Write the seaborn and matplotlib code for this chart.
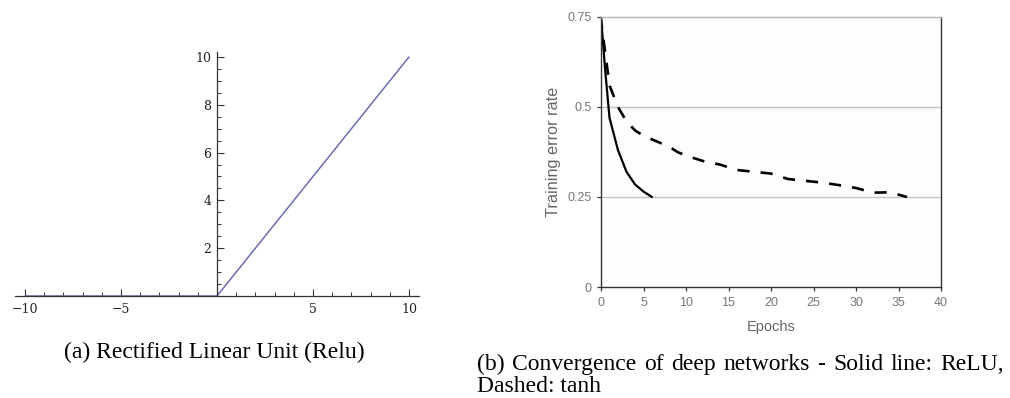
import numpy as np
import pandas as pd
import matplotlib
matplotlib.use("Agg")
import matplotlib.pyplot as plt
import seaborn as sns
from matplotlib.ticker import FixedLocator

# ---- data ----
relu_x = [-10, 0, 10]
relu_y = [0, 0, 10]

relu_epochs = [0, 0.5, 1, 2, 3, 4, 5, 6]
relu_error = [0.75, 0.60, 0.47, 0.38, 0.32, 0.285, 0.265, 0.25]

tanh_epochs = [0, 1, 2, 3, 4, 5, 6, 7, 8, 9, 10, 12, 14, 16, 18, 20, 22, 24, 26, 28, 30, 32, 34, 36]
tanh_error = [0.74, 0.56, 0.50, 0.46, 0.435, 0.42, 0.41, 0.40, 0.39, 0.375, 0.365, 0.35,
              0.34, 0.325, 0.32, 0.315, 0.30, 0.295, 0.29, 0.283, 0.275, 0.262, 0.263, 0.25]

left_xticks = [-10, -5, 5, 10]
left_xlabels = ["\u221210", "\u22125", "5", "10"]
left_yticks = [2, 4, 6, 8, 10]
right_xticks = [0, 5, 10, 15, 20, 25, 30, 35, 40]
right_yticks = [0, 0.25, 0.5, 0.75]
right_ylabels = ["0", "0.25", "0.5", "0.75"]

caption_a = "(a) Rectified Linear Unit (Relu)"
caption_b1 = "(b) Convergence of deep networks - Solid line: ReLU,"
caption_b2 = "Dashed: tanh"

sns.set_style("white")
plt.rcParams["font.family"] = ["DejaVu Sans"]

W, H = 1010, 398
fig = plt.figure(figsize=(W / 100, H / 100), dpi=100)

def rect(l, t, r, b):
    return [l / W, 1 - b / H, (r - l) / W, (b - t) / H]

# ---------- left panel ----------
axL = fig.add_axes(rect(15.4, 52.2, 418.6, 296))
sns.lineplot(x=relu_x, y=relu_y, ax=axL, color="#6c6cb2", linewidth=1.1)
axL.set_xlim(-10.5, 10.5)
axL.set_ylim(0, 10.2)
for s in ["top", "right"]:
    axL.spines[s].set_visible(False)
axL.spines["left"].set_position(("data", 0))
axL.spines["bottom"].set_position(("data", 0))
for s in ["left", "bottom"]:
    axL.spines[s].set_color("#333333")
    axL.spines[s].set_linewidth(0.9)
axL.xaxis.set_major_locator(FixedLocator(left_xticks))
axL.set_xticklabels(left_xlabels)
axL.xaxis.set_minor_locator(FixedLocator([v for v in range(-10, 11) if v not in (-10, -5, 0, 5, 10)]))
axL.yaxis.set_major_locator(FixedLocator(left_yticks))
axL.yaxis.set_minor_locator(FixedLocator([v / 2 for v in range(1, 21) if v % 4 != 0]))
axL.tick_params(axis="x", which="both", direction="in", bottom=True, top=False,
                colors="#333333", labelcolor="#222222", pad=5)
axL.tick_params(axis="y", which="both", direction="in", left=True, right=False,
                colors="#333333", labelcolor="#222222", pad=4)
axL.tick_params(which="major", length=5, width=0.8)
axL.tick_params(which="minor", length=3, width=0.7)
for lab in axL.get_xticklabels() + axL.get_yticklabels():
    lab.set_fontfamily("DejaVu Serif")
    lab.set_fontsize(9)
axL.set_xlabel("")
axL.set_ylabel("")
axL.patch.set_alpha(0)

# ---------- right panel ----------
axR = fig.add_axes(rect(601, 17, 941, 287))
axR.set_facecolor("#fdfdfd")
axR.set_xlim(0, 40)
axR.set_ylim(0, 0.75)
for yv in [0.25, 0.5]:
    axR.axhline(yv, color="#c4c4c4", linewidth=1.0, zorder=0)
sns.lineplot(x=relu_epochs, y=relu_error, ax=axR, color="black", linewidth=1.6)
sns.lineplot(x=tanh_epochs, y=tanh_error, ax=axR, color="black", linewidth=1.9,
             linestyle=(1.5, (4.6, 4.2)))
axR.spines["top"].set_color("#b5b5b5")
axR.spines["top"].set_linewidth(1.0)
for s in ["left", "bottom", "right"]:
    axR.spines[s].set_color("#333333")
    axR.spines[s].set_linewidth(1.0)
axR.xaxis.set_major_locator(FixedLocator(right_xticks))
axR.yaxis.set_major_locator(FixedLocator(right_yticks))
axR.set_yticklabels(right_ylabels)
axR.tick_params(axis="both", direction="out", length=3, width=0.9, colors="#333333",
                labelcolor="#777777", labelsize=9, bottom=True, left=True, pad=4)
for lab in axR.get_xticklabels() + axR.get_yticklabels():
    lab.set_fontfamily("Liberation Sans")
axR.set_xlabel("Epochs", fontsize=10.5, color="#666666", family="Liberation Sans", labelpad=8)
axR.set_ylabel("Training error rate", fontsize=11.7, color="#666666", family="Liberation Sans", labelpad=4)

# ---------- captions ----------
fig.text(214 / W, 1 - 358 / H, caption_a, ha="center", va="baseline",
         family="Liberation Serif", fontsize=17, color="black")

# justified first line of caption (b)
fig.canvas.draw()
renderer = fig.canvas.get_renderer()
words = caption_b1.split(" ")
x_start, x_end = 477.0, 1004.0
wtexts = [fig.text(0, 1 - 370 / H, w, ha="left", va="baseline",
                   family="Liberation Serif", fontsize=17, color="black") for w in words]
widths = [t.get_window_extent(renderer).width for t in wtexts]
gap = (x_end - x_start - sum(widths)) / (len(words) - 1)
xpos = x_start
for t, wd in zip(wtexts, widths):
    t.set_x(xpos / W)
    xpos += wd + gap

fig.text(x_start / W, 1 - 392 / H, caption_b2, ha="left", va="baseline",
         family="Liberation Serif", fontsize=17, color="black")

fig.savefig("out.png", dpi=100, facecolor="white")
